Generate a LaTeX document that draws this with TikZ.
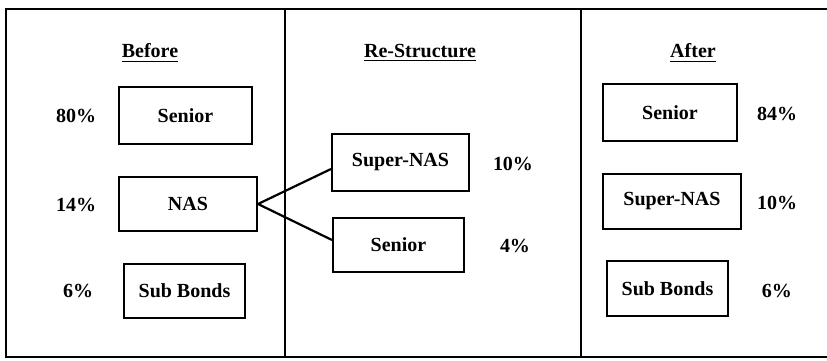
\documentclass[tikz,border=0pt]{standalone}
\usepackage{fontspec}
\setmainfont{Liberation Serif}
\tikzset{
  tranche/.style={draw, line width=1pt, inner sep=0pt, font=\bfseries},
  pct/.style={font=\bfseries},
  heading/.style={font=\bfseries}
}
\begin{document}
\begin{tikzpicture}[x=0.5pt,y=-0.5pt,font=\fontsize{11}{13}\selectfont]
\useasboundingbox (0,0) rectangle (827,360);
% frame and the three columns
\draw[line width=1.1pt] (827,9) -- (6,9) -- (6,357) -- (827,357);
\draw[line width=0.7pt] (285,9) -- (285,357);
\draw[line width=0.7pt] (581,9) -- (581,357);

\node[heading] (before) at (150,53) {\underline{Before}};
\node[heading] (restruct) at (420,53) {\underline{Re-Structure}};
\node[heading] (after) at (693,53) {\underline{After}};

% before
\node[tranche, minimum width=66.5pt, minimum height=28.5pt] (bsen) at (185.5,115.5) {Senior};
\node[tranche, minimum width=69pt, minimum height=27pt] (bnas) at (188,204) {NAS};
\node[tranche, minimum width=60.5pt, minimum height=27pt] (bsub) at (184.5,291) {Sub Bonds};
\node[pct] (b80) at (76,116) {80\%};
\node[pct] (b14) at (76,205) {14\%};
\node[pct] (b6) at (78,291) {6\%};

% re-structure
\node[tranche, minimum width=68.5pt, minimum height=28.5pt] (rsnas) at (400.5,162.5) {Super-NAS};
\node[tranche, minimum width=65.5pt, minimum height=27pt] (rsen) at (398.5,245) {Senior};
\node[pct] (r10) at (513,164) {10\%};
\node[pct] (r4) at (515,246) {4\%};
\draw[line width=1.1pt] (bnas.east) -- ([yshift=-3.25pt]rsnas.west);
\draw[line width=1.1pt] (bnas.east) -- ([yshift=2.5pt]rsen.west);

% after
\node[tranche, minimum width=67pt, minimum height=28.5pt] (asen) at (670,112.5) {Senior};
\node[tranche, minimum width=69pt, minimum height=27.5pt] (asnas) at (672,201.5) {Super-NAS};
\node[tranche, minimum width=60.5pt, minimum height=27.5pt] (asub) at (667.5,288.5) {Sub Bonds};
\node[pct] (a84) at (777,114) {84\%};
\node[pct] (a10) at (777,203) {10\%};
\node[pct] (a6) at (777,291) {6\%};
\end{tikzpicture}
\end{document}
